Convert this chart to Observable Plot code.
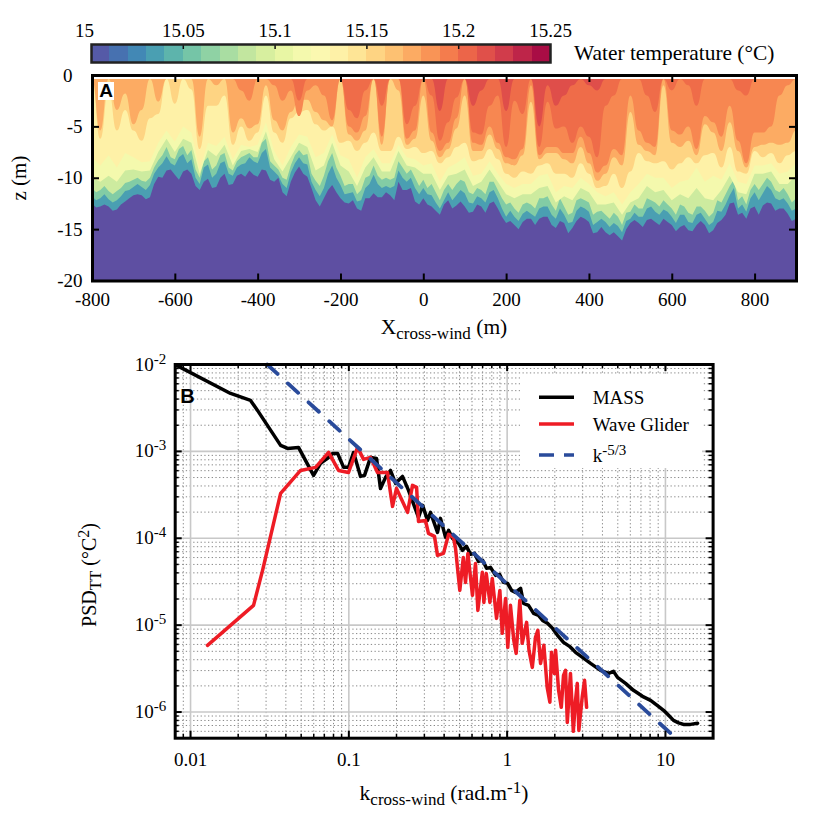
<!DOCTYPE html>
<html>
<head>
<meta charset="utf-8">
<script src="https://cdn.jsdelivr.net/npm/d3@7"></script>
<script src="https://cdn.jsdelivr.net/npm/@observablehq/plot@0.6"></script>
<style>
html,body{margin:0;padding:0;background:#fff;}
svg{display:block;}
</style>
</head>
<body>
<div id="chart"></div>
<script>
// ---------- Panel A: depth (m) of each isotherm, per column along X ----------
const columnX = d3.range(-800, 901, 20);
const midColumnX = d3.range(-790, 891, 20);
const isothermT = [15.035, 15.06, 15.09, 15.115, 15.135, 15.155, 15.175, 15.19, 15.202, 15.216];
const depthLevel1 = [12.5,12.8,12.8,13.1,12.3,11.7,11.7,11.9,9.9,9.3,9.7,9.4,9.6,11.2,10.1,10.9,9.6,10.6,9.6,9.3,9.9,9.3,10.4,11.4,10.4,8.9,9.9,12.2,12.0, 10.7,12.0,12.5,13.0,12.0,11.5,11.9,11.7,10.4,11.2,12.3,12.0,12.8,13.6,12.2,12.7,12.8,13.3,12.8,12.5,13.0,14.4,14.6,14.3,14.0,14.0,13.8,14.9,14.4, 14.9,13.8,14.3,15.3,15.3,15.3,16.1,14.4,14.4,14.1,14.3,14.0,14.6,14.8,15.1,14.6,14.6,15.1,14.1,12.5,13.6,14.0,12.8,12.7,12.5,13.0,13.5,14.0];
const depthLevel1Mid = [12.9,12.6,13.2,12.6,12.0,11.6,12.1,10.6,10.0,9.2,10.2,9.2,10.8,10.4,11.0,10.0,10.7,9.8,9.9,9.7,9.2,10.2,10.0,11.8,9.5,9.6,11.0,12.8,11.2,11.4,12.4,12.2,13.2,12.0,11.9,11.4,12.2,11.2,11.0,12.6,12.6,13.2,12.6,13.0,12.3,13.4,12.6,13.4,12.3,13.8,14.2,15.0,14.0,14.6,13.8,14.6,14.2,15.4,14.2,14.0,15.4,14.8,15.6,15.7,15.0,14.1,14.8,14.0,14.6,14.3,15.2,14.6,15.2,14.2,15.4,14.4,13.6,12.4,13.4,13.0,13.6,12.4,13.2,13.0,14.2];
const depthLevel2 = [11.8,12.0,12.1,12.2,11.3,10.9,10.9,10.7,9.0,7.9,8.8,7.7,8.2,10.6,8.7,9.6,8.4,9.8,8.7,8.0,8.6,7.2,9.4,10.6,9.5,8.0,8.7,11.2,11.0, 8.8,10.7,11.5,12.3,11.0,9.7,11.0,11.0,9.3,10.4,11.0,11.0,11.7,13.0,11.4,11.7,11.5,12.5,12.0,11.4,12.0,13.8,13.8,13.5,13.5,13.0,12.8,14.0,13.6, 14.3,12.8,13.3,14.3,14.3,14.4,15.3,14.0,13.8,13.0,13.3,13.1,13.8,13.6,14.3,13.6,14.0,14.3,13.3,11.7,13.0,13.3,11.4,11.5,11.2,12.2,12.5,13.0];
const depthLevel2Mid = [12.2,11.6,12.4,11.8,11.2,10.6,11.2,9.6,8.6,8.6,8.0,8.6,10.0,9.0,10.0,8.6,9.6,9.0,8.6,8.4,7.6,9.0,9.8,11.0,8.6,8.6,10.4,11.8,9.6,10.0,11.6,11.4,12.2,10.6,10.6,10.8,10.8,10.0,10.0,11.6,11.6,12.4,12.2,12.2,11.2,12.4,11.8,12.4,11.2,13.0,13.2,14.2,13.2,13.8,12.8,13.6,13.0,14.4,13.2,13.0,14.6,14.0,14.8,14.7,14.2,13.4,13.8,12.8,13.6,13.3,14.4,13.6,14.4,13.4,14.6,13.2,12.6,11.0,12.6,12.0,12.2,10.8,12.0,12.0,13.2];
const depthLevel3 = [11.0,11.2,11.3,11.3,10.5,10.2,10.3,10.0,8.3,7.0,8.2,6.9,7.3,10.0,8.0,8.8,7.6,9.3,8.0,7.6,8.0,6.2,8.8,10.0,8.8,7.3,7.7,10.3,9.8, 7.6,9.8,10.6,11.6,10.0,8.8,10.2,10.2,8.4,9.6,10.0,10.2,10.6,12.2,10.6,10.6,10.4,11.6,11.2,10.4,11.2,12.6,13.0,12.6,12.6,12.0,11.8,13.2,12.8, 13.4,12.0,12.4,13.3,13.6,13.4,14.6,13.3,13.0,12.0,12.4,12.2,13.0,12.6,13.4,12.8,13.2,13.4,12.4,10.8,12.2,12.6,10.6,10.6,10.4,11.4,11.6,12.0];
const depthLevel3Mid = [11.4,10.8,11.6,11.0,10.4,10.0,10.4,9.0,7.8,8.0,7.2,7.8,9.2,8.4,9.2,7.8,9.0,8.4,7.8,8.0,6.6,8.4,9.2,10.2,7.8,7.8,9.6,10.8,8.4,9.0,10.8,10.6,11.2,9.8,9.8,10.0,10.0,9.0,9.2,10.8,11.0,11.4,11.2,11.2,10.2,11.4,11.0,11.6,10.4,12.0,12.4,13.4,12.4,13.0,12.0,12.6,12.0,13.6,12.2,12.2,13.6,13.2,14.0,13.8,13.4,12.6,13.0,12.2,12.8,12.6,13.6,12.8,13.6,12.8,13.8,12.2,11.6,10.2,11.8,11.2,11.2,10.0,11.2,11.0,12.4];
const depthLevel4 = [10.0,10.4,9.8,10.4,9.3,9.2,9.4,9.3,7.5,6.2,7.5,6.2,6.6,9.6,7.3,7.9,6.8,8.8,7.4,7.2,7.5,5.5,8.2,9.4,8.0,6.6,7.0,9.3,8.8, 6.6,8.8,9.4,10.8,9.0,8.0,9.4,9.4,7.4,8.8,9.0,9.6,9.6,11.2,9.8,9.6,9.2,10.8,10.4,9.2,10.4,11.6,12.0,11.6,11.6,11.0,10.8,12.4,11.8, 12.2,11.0,11.4,12.6,12.6,12.4,13.6,12.4,12.0,10.8,11.4,11.2,12.2,11.6,12.0,11.0,12.0,12.2,11.2,9.8,11.4,11.6,9.6,9.6,9.4,10.6,10.6,9.8];
const depthLevel5 = [8.0,8.8,7.8,9.0,7.6,8.0,8.5,8.4,6.6,5.4,6.5,5.0,5.6,9.2,6.6,6.9,6.0,8.2,6.8,7.0,6.8,4.6,7.4,8.8,7.0,5.8,6.0,8.0,7.6, 5.8,7.8,8.2,10.0,8.0,7.2,8.6,8.6,6.8,8.0,8.2,8.8,8.6,10.4,9.0,8.6,8.0,9.8,9.6,8.4,9.6,10.6,11.0,10.6,10.6,9.8,9.6,11.4,10.8, 11.0,10.0,10.6,11.4,11.8,11.4,12.6,11.4,10.6,9.6,10.0,10.0,11.0,10.4,10.2,9.0,10.4,9.8,10.2,8.6,10.4,10.6,8.8,8.8,8.6,9.6,9.4,8.6];
const depthLevel6 = [0.4,6.2,1.5,5.4,3.4,5.4,6.4,4.2,3.8,0.4,2.8,0.4,1.4,7.2,3.0,3.0,2.0,6.8,5.0,6.4,5.6,2.0,5.6,6.6,4.2,3.6,3.4,4.8,5.4, 5.0,6.6,6.4,7.4,6.6,5.6,7.4,7.4,6.0,7.2,7.0,7.6,7.4,8.6,8.0,7.0,6.6,8.4,8.2,7.2,8.2,9.6,10.0,9.4,9.6,8.8,8.6,9.6,9.6, 10.0,8.6,9.6,11.0,10.8,9.6,11.0,9.4,7.6,8.4,8.6,8.4,9.2,8.6,8.0,8.6,7.8,7.6,9.0,7.0,9.4,9.6,7.4,8.0,7.6,8.6,7.8,7.4];
const depthLevel7 = [0.4,5.4,0.4,3.4,1.8,4.8,3.4,0.4,2.6,0.4,0.4,0.4,0.4,6.0,0.4,1.0,0.4,5.6,4.2,5.2,4.8,1.0,4.4,5.4,3.6,2.4,2.4,3.6,4.4, 5.0,0.4,5.8,6.4,5.4,0.4,6.8,0.4,1.5,6.8,6.2,2.0,6.4,8.0,7.2,5.2,2.0,7.4,7.4,5.8,7.2,8.6,8.8,7.8,2.6,8.2,7.6,7.6,8.2, 8.6,7.0,8.6,10.3,9.6,8.0,8.8,3.6,6.8,7.4,7.8,1.0,6.6,7.0,6.4,7.8,4.8,5.6,7.4,4.6,7.4,9.0,7.0,6.8,6.6,6.8,6.6,5.4];
const depthLevel8 = [0.4,0.4,0.4,0.4,0.4,0.4,0.4,0.4,0.4,0.4,0.4,0.4,0.4,0.4,0.4,0.4,0.4,0.4,1.5,2.5,0.4,0.4,1.0,2.5,1.5,4.0,1.5,1.0,2.0, 4.4,0.4,5.0,5.6,4.0,0.4,6.0,0.4,0.4,6.2,5.4,0.4,5.6,7.4,6.6,4.2,0.4,6.6,6.8,5.0,6.6,8.0,8.2,7.2,1.0,7.8,7.0,7.0,7.6, 7.6,6.0,7.6,9.5,8.8,7.2,7.8,2.0,5.4,6.6,7.0,0.4,5.4,5.8,5.0,7.2,4.0,4.6,6.0,3.0,6.4,8.6,5.6,5.6,5.0,2.0,1.0,0.4];
const depthLevel9 = [0.4,0.4,0.4,0.4,0.4,0.4,0.4,0.4,0.4,0.4,0.4,0.4,0.4,0.4,0.4,0.4,0.4,0.4,0.4,0.4,0.4,0.4,0.4,0.4,0.4,2.5,0.4,0.4,0.4, 0.4,0.4,3.4,4.2,1.5,0.4,3.0,0.4,0.4,4.8,3.0,0.4,2.0,6.4,4.6,2.2,0.4,5.6,5.8,3.0,2.0,7.0,2.5,3.8,0.4,7.0,2.6,5.2,5.0, 6.6,5.0,6.0,8.0,3.0,2.0,0.4,0.4,0.4,2.0,3.6,0.4,1.5,0.4,1.0,3.0,0.4,0.4,0.4,0.4,1.5,2.0,0.4,0.4,0.4,0.4,0.4,0.4];
const depthLevel10 = [0.4,0.4,0.4,0.4,0.4,0.4,0.4,0.4,0.4,0.4,0.4,0.4,0.4,0.4,0.4,0.4,0.4,0.4,0.4,0.4,0.4,0.4,0.4,0.4,0.4,0.4,0.4,0.4,0.4, 0.4,0.4,0.4,0.4,0.4,0.4,0.4,0.4,0.4,0.4,0.4,0.4,0.4,3.5,0.4,0.4,0.4,3.0,1.5,0.4,0.4,3.5,0.4,0.4,0.4,5.0,1.0,3.0,2.0, 1.0,0.4,1.0,1.5,0.4,0.4,0.4,0.4,0.4,0.4,0.4,0.4,0.4,0.4,0.4,0.4,0.4,0.4,0.4,0.4,0.4,0.4,0.4,0.4,0.4,0.4,0.4,0.4];
const isothermDepths = [depthLevel1,depthLevel2,depthLevel3,depthLevel4,depthLevel5,depthLevel6,depthLevel7,depthLevel8,depthLevel9,depthLevel10];
const isothermMidDepths = [depthLevel1Mid,depthLevel2Mid,depthLevel3Mid];
const surfaceDepth = 0.4;
const coldT = 15;

const xTicksA = [-800,-600,-400,-200,0,200,400,600,800];
const yTicksA = [-5,-10,-15,-20];
const colorTicks = [15.05,15.1,15.15,15.2,15.25];
const colorSteps = d3.range(25).map(i => 15 + i*0.01);

// ---------- Panel B: spectra, log10 of k and log10 of PSD ----------
const massLogK = [-2.088,-1.747,-1.621,-1.577,-1.431,-1.387,-1.318,-1.223,-1.179,-1.135,-1.103,-1.071,-1.033,-1.002,-.970,-.926,-.901,-.863,-.825,-.800,-.768,-.737,-.705,-.661,-.623,-.560,-.534,-.503,-.484,-.440,-.421,-.389,-.370,-.345,-.307,-.282,-.257,-.231,-.206,-.181,-.155,-.130,-.105,-.073,-.048,-.023,.003,.028,.053,.085,.104,.135,.167,.198,.224,.255,.287,.318,.356,.394,.432,.476,.527,.590,.641,.672,.697,.748,.798,.855,.906,.956,.988,1.020,1.051,1.083,1.114,1.158,1.203];
const massLogPsd = [-2.010,-2.333,-2.413,-2.528,-2.931,-2.966,-2.954,-3.276,-3.138,-3.081,-3.023,-3.023,-3.184,-3.184,-3.012,-3.288,-3.276,-3.069,-3.081,-3.426,-3.299,-3.219,-3.368,-3.288,-3.449,-3.760,-3.621,-3.794,-3.702,-3.932,-3.771,-3.990,-3.909,-4.001,-4.059,-4.139,-4.093,-4.185,-4.174,-4.266,-4.254,-4.346,-4.335,-4.427,-4.415,-4.508,-4.519,-4.600,-4.623,-4.577,-4.749,-4.772,-4.864,-4.887,-4.945,-4.979,-5.037,-5.117,-5.198,-5.244,-5.313,-5.371,-5.440,-5.520,-5.555,-5.532,-5.601,-5.670,-5.750,-5.819,-5.865,-5.934,-5.980,-6.038,-6.096,-6.124,-6.142,-6.142,-6.130];
const gliderLogK = [-1.893,-1.602,-1.545,-1.431,-1.305,-1.210,-1.128,-1.065,-1.002,-.945,-.907,-.863,-.819,-.756,-.724,-.699,-.629,-.598,-.572,-.560,-.516,-.497,-.459,-.440,-.402,-.370,-.339,-.326,-.299,-.277,-.263,-.248,-.219,-.200,-.185,-.157,-.147,-.132,-.109,-.094,-.067,-.046,-.031,-.010,.004,.021,.042,.057,.080,.095,.123,.138,.159,.179,.194,.211,.232,.253,.270,.280,.299,.306,.325,.342,.356,.369,.380,.400,.418,.432,.443,.453,.474,.489,.502];
const gliderLogPsd = [-5.232,-4.772,-4.369,-3.483,-3.219,-3.184,-3.012,-3.219,-3.242,-2.954,-3.092,-3.069,-3.242,-3.242,-3.633,-3.426,-3.702,-3.391,-3.414,-3.806,-3.794,-3.944,-3.978,-4.197,-4.174,-3.955,-3.990,-4.116,-4.600,-4.220,-4.508,-4.174,-4.657,-4.289,-4.830,-4.392,-4.738,-4.404,-4.738,-4.462,-4.922,-4.600,-5.094,-4.692,-5.255,-4.772,-5.175,-5.325,-4.715,-5.209,-4.968,-5.290,-5.486,-5.140,-5.060,-5.440,-5.232,-5.716,-5.888,-5.313,-5.555,-5.290,-5.750,-5.946,-5.578,-5.520,-6.119,-5.555,-6.222,-5.865,-5.670,-6.211,-5.831,-5.635,-5.946];
const slopeK = [0.0305, 11.64];
const slopePsd = [0.01, 5e-7];

const majorK = [0.01,0.1,1,10];
const minorK = [0.001,0.01,0.1,1,10].flatMap(d => d3.range(2,10).map(m => m*d)).filter(d => d>=0.008 && d<=20);
const majorP = [1e-2,1e-3,1e-4,1e-5,1e-6];
const minorP = [1e-7,1e-6,1e-5,1e-4,1e-3].flatMap(d => d3.range(2,10).map(m => m*d)).filter(d => d>=5e-7 && d<1e-2);

const SERIF = "'Liberation Serif','Times New Roman',serif";
const SANS = "'Liberation Sans',Arial,sans-serif";
const FS = 19;
const baseStyle = {fontFamily:SERIF, fontSize:FS+"px", background:"transparent", overflow:"visible"};

// Turn "X_{a}" / "X^{a}" markup into real tspans
function fillRich(node, s, small=15){
  const re = /([_^])\{([^}]*)\}/g; let last = 0, m, pending = 0;
  node.textContent = "";
  const add = (txt, dy, size) => {
    if(!txt) return;
    const t = document.createElementNS("http://www.w3.org/2000/svg","tspan");
    t.textContent = txt;
    if(dy) t.setAttribute("dy", dy);
    if(size) t.setAttribute("font-size", size);
    node.appendChild(t);
  };
  while((m = re.exec(s))){
    add(s.slice(last, m.index), pending, null); pending = 0;
    const off = m[1]==="_" ? 5 : -7;
    add(m[2], off, small);
    pending = -off; last = m.index + m[0].length;
  }
  add(s.slice(last), pending, null);
}
function richify(svg){
  d3.select(svg).selectAll("text").each(function(){
    const s = this.textContent;
    if(/[_^]\{/.test(s)) fillRich(this, s);
  });
}
function addText(svg, x, y, s, o={}){
  const t = d3.select(svg).append("text")
    .attr("x",x).attr("y",y)
    .attr("text-anchor",o.anchor||"middle")
    .attr("font-family",o.family||SERIF)
    .attr("font-weight",o.weight||null)
    .attr("font-size",o.size||FS)
    .attr("fill","#000");
  if(o.rotate) t.attr("transform",`rotate(${o.rotate} ${x} ${y})`);
  fillRich(t.node(), s, o.small||15);
  return t;
}

const colorScale = {type:"linear", scheme:"Spectral", reverse:true, domain:[15,15.25]};

// ---------- Colour bar ----------
const barPlot = Plot.plot({
  width:829, height:70, marginTop:44, marginBottom:8, marginLeft:91, marginRight:279,
  style:baseStyle,
  x:{domain:[15,15.25]}, y:{axis:null},
  color:colorScale,
  marks:[
    Plot.barX(colorSteps,{x1:d=>d, x2:d=>d+0.01, fill:d=>d+0.005, shapeRendering:"crispEdges"}),
    Plot.axisX({anchor:"top", ticks:colorTicks, tickSize:0, tickPadding:8, tickFormat:d=>String(d), label:null}),
    Plot.axisX({anchor:"top", ticks:[15], tickSize:0, tickPadding:8, dx:-7, tickFormat:d=>String(d), label:null}),
    Plot.ruleX(colorTicks.slice(0,4),{insetBottom:13, stroke:"#111", strokeWidth:1.5}),
    Plot.frame({stroke:"#222", strokeWidth:2.5})
  ]
});
addText(barPlot, 574, 60, "Water temperature (°C)", {anchor:"start", size:21.4});

// ---------- Panel A ----------
const isothermRows = isothermT.flatMap((T,k) => {
  const rows = columnX.map((x,i) => ({x, T, depth:isothermDepths[k][i]}));
  if(isothermMidDepths[k]) midColumnX.forEach((x,i) => rows.push({x, T, depth:isothermMidDepths[k][i]}));
  return d3.sort(rows, d => d.x);
});
const deepRows = isothermRows.filter(d => d.T <= 15.135);
const warmRows = isothermRows.filter(d => d.T > 15.135);
const plotAH = 205.5;
const panelA = Plot.plot({
  width:829, height:270, marginTop:5, marginBottom:59.5, marginLeft:92, marginRight:33,
  style:baseStyle,
  x:{domain:[-800,900]}, y:{domain:[-20,0]},
  color:colorScale,
  marks:[
    Plot.rect([coldT],{x1:-800, x2:900, y1:-20, y2:-surfaceDepth, fill:d=>d}),
    Plot.areaY(deepRows,{x:"x", y1:()=>-surfaceDepth, y2:d=>-d.depth, fill:"T", z:"T"}),
    Plot.areaY(warmRows,{x:"x", y1:()=>-surfaceDepth, y2:d=>-d.depth, fill:"T", z:"T", curve:"bump-x"}),
    Plot.ruleX(xTicksA.slice(1),{insetBottom:plotAH-7, stroke:"#000", strokeWidth:2}),
    Plot.ruleX(xTicksA.slice(1),{insetTop:plotAH-7, stroke:"#000", strokeWidth:2}),
    Plot.ruleY(yTicksA.slice(0,3),{insetRight:704-7, stroke:"#000", strokeWidth:2}),
    Plot.ruleY(yTicksA.slice(0,3),{insetLeft:704-7, stroke:"#000", strokeWidth:2}),
    Plot.axisX({ticks:xTicksA, tickSize:0, tickPadding:11, tickFormat:d=>String(d), label:null}),
    Plot.axisY({ticks:yTicksA, tickSize:0, tickPadding:10, tickFormat:d=>String(d), label:null}),
    Plot.axisY({ticks:[0], tickSize:0, tickPadding:20, tickFormat:d=>String(d), label:null}),
    Plot.frame({stroke:"#000", strokeWidth:3})
  ]
});
// panel letter
d3.select(panelA).append("rect").attr("x",98).attr("y",12).attr("width",16).attr("height",18).attr("fill","#fff");
addText(panelA, 106, 27, "A", {family:SANS, weight:"bold", size:19});
addText(panelA, 444, 264, "X_{cross-wind} (m)", {size:21.5, small:17});
addText(panelA, 26, 108, "z (m)", {rotate:-90, size:21});

// ---------- Panel B ----------
const massRows = massLogK.map((k,i) => ({k:10**k, p:10**massLogPsd[i]}));
const gliderRows = gliderLogK.map((k,i) => ({k:10**k, p:10**gliderLogPsd[i]}));
const slopeRows = slopeK.map((k,i) => ({k, p:slopePsd[i]}));
const plotBH = 373.7, plotBW = 537.9;
const panelB = Plot.plot({
  width:829, height:489, marginTop:24, marginBottom:91.3, marginLeft:174.7, marginRight:116.4,
  style:baseStyle,
  x:{type:"log", domain:[0.008,20]}, y:{type:"log", domain:[5e-7,1e-2]},
  marks:[
    Plot.gridX(minorK,{stroke:"#888", strokeOpacity:1, strokeWidth:1, strokeDasharray:"1.3,2.4"}),
    Plot.gridY(minorP,{stroke:"#888", strokeOpacity:1, strokeWidth:1, strokeDasharray:"1.3,2.4"}),
    Plot.gridX(majorK,{stroke:"#c8c8c8", strokeOpacity:1, strokeWidth:1.6}),
    Plot.gridY(majorP,{stroke:"#c8c8c8", strokeOpacity:1, strokeWidth:1.6}),
    Plot.line(massRows,{x:"k", y:"p", stroke:"#000", strokeWidth:3.5, strokeLinejoin:"round"}),
    Plot.line(gliderRows,{x:"k", y:"p", stroke:"#ee1c25", strokeWidth:3.5, strokeLinejoin:"round"}),
    Plot.line(slopeRows,{x:"k", y:"p", stroke:"#2a4b9b", strokeWidth:3.8, strokeDasharray:"14,14"}),
    Plot.ruleX(majorK,{insetBottom:plotBH-7, stroke:"#000", strokeWidth:2}),
    Plot.ruleX(majorK,{insetTop:plotBH-7, stroke:"#000", strokeWidth:2}),
    Plot.ruleX(minorK,{insetBottom:plotBH-4, stroke:"#000", strokeWidth:1.5}),
    Plot.ruleX(minorK,{insetTop:plotBH-4, stroke:"#000", strokeWidth:1.5}),
    Plot.ruleY(majorP,{insetRight:plotBW-7, stroke:"#000", strokeWidth:2}),
    Plot.ruleY(majorP,{insetLeft:plotBW-7, stroke:"#000", strokeWidth:2}),
    Plot.ruleY(minorP,{insetRight:plotBW-4, stroke:"#000", strokeWidth:1.5}),
    Plot.ruleY(minorP,{insetLeft:plotBW-4, stroke:"#000", strokeWidth:1.5}),
    Plot.axisX({ticks:majorK, tickSize:0, tickPadding:14, tickFormat:d=>String(d), label:null}),
    Plot.axisY({ticks:majorP, tickSize:0, tickPadding:9, tickFormat:d=>`10^{${Math.round(Math.log10(d))}}`, label:null}),
    Plot.frame({stroke:"#000", strokeWidth:3})
  ]
});
richify(panelB);
addText(panelB, 187.5, 63, "B", {anchor:"middle", family:SANS, weight:"bold", size:20});
addText(panelB, 444, 460, "k_{cross-wind} (rad.m^{-1})", {size:21.5, small:17});
addText(panelB, 96, 235, "PSD_{TT} (°C^{2})", {rotate:-90, size:20, small:16});

// legend
const legendNames = ["MASS","Wave Glider","k^{-5/3}"];
const legendColors = ["#000","#ee1c25","#2a4b9b"];
const legendRowY = [57.3,84,115];
const lg = d3.select(panelB);
lg.append("rect").attr("x",520).attr("y",34).attr("width",182).attr("height",94).attr("fill","#fff");
legendNames.forEach((n,i) => {
  lg.append("line").attr("x1",539).attr("x2",574).attr("y1",legendRowY[i]).attr("y2",legendRowY[i])
    .attr("stroke",legendColors[i]).attr("stroke-width",3.5).attr("stroke-dasharray", i===2 ? "15,10" : null);
  addText(panelB, 592.7, legendRowY[i]+7, n, {anchor:"start"});
});

document.getElementById("chart").append(barPlot, panelA, panelB);
</script>
</body>
</html>
